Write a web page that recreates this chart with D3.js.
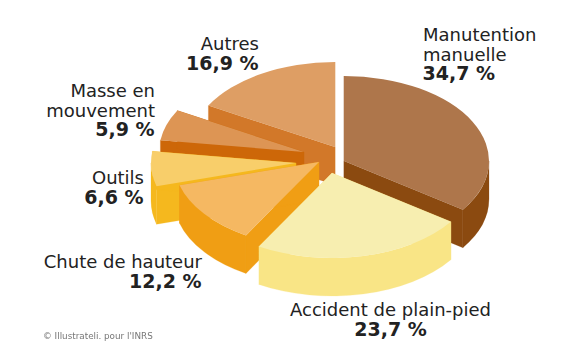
<!DOCTYPE html>
<html>
<head>
<meta charset="utf-8">
<script src="https://cdn.jsdelivr.net/npm/d3@7"></script>
<style>
  html, body { margin: 0; padding: 0; background: #fff; }
</style>
</head>
<body>
<div id="chart"></div>
<script>
// Chart data
const categories = ["Manutention manuelle", "Accident de plain-pied", "Chute de hauteur", "Outils", "Masse en mouvement", "Autres"];
const values = [34.7, 23.7, 12.2, 6.6, 5.9, 16.9];
const valueLabels = ["34,7 %", "23,7 %", "12,2 %", "6,6 %", "5,9 %", "16,9 %"];

// Slice styling, same order as categories
const topColors = ["#ae764b", "#f7eeb0", "#f5b862", "#f8ce6a", "#dd9554", "#de9e64"];
const sideColors = ["#8b4a10", "#f9e586", "#f09e14", "#f5b81e", "#cd6708", "#d27829"];

// Where each slice tip ends up after the pie is pulled apart
const sliceTips = [[344, 161], [332, 173], [319, 162], [296, 163], [304, 152], [335, 147]];
const drawOrder = [5, 4, 3, 2, 0, 1];

// Text blocks: x, baseline of first line, anchor, wrapped lines
const labelLayout = [
    { x: 423, y: 41, anchor: "start", lines: ["Manutention", "manuelle"] },
    { x: 390.5, y: 316, anchor: "middle", lines: ["Accident de plain-pied"] },
    { x: 202, y: 268, anchor: "end", lines: ["Chute de hauteur"] },
    { x: 144, y: 184, anchor: "end", lines: ["Outils"] },
    { x: 155, y: 97, anchor: "end", lines: ["Masse en", "mouvement"] },
    { x: 259, y: 50, anchor: "end", lines: ["Autres"] }
];

const width = 580;
const height = 361;
const rx = 145;
const ry = 85;
const depth = 38;
const squash = ry / rx;
const wallHeight = depth / squash;

const svg = d3.select("#chart")
    .append("svg")
    .attr("width", width)
    .attr("height", height)
    .style("display", "block")
    .style("font-family", "'DejaVu Sans', Verdana, sans-serif");

const defs = svg.append("defs");
defs.append("filter")
    .attr("id", "soft")
    .append("feGaussianBlur")
    .attr("stdDeviation", 0.4);

const pie = d3.pie().sort(null).value(d => d);
const arcs = pie(values);
const topArc = d3.arc().innerRadius(0).outerRadius(rx);

// Point on the rim, in the unsquashed coordinates of a slice
const rim = a => [rx * Math.sin(a), -rx * Math.cos(a)];

// Only the front half of the rim has a visible wall
function outerWall(startAngle, endAngle) {
    const a0 = Math.max(startAngle, Math.PI / 2);
    const a1 = Math.min(endAngle, 3 * Math.PI / 2);
    if (a1 <= a0) return null;
    const p = d3.path();
    const [x0, y0] = rim(a0);
    const [x1, y1] = rim(a1);
    p.moveTo(x0, y0);
    p.arc(0, 0, rx, a0 - Math.PI / 2, a1 - Math.PI / 2, false);
    p.lineTo(x1, y1 + wallHeight);
    p.arc(0, wallHeight, rx, a1 - Math.PI / 2, a0 - Math.PI / 2, true);
    p.closePath();
    return p.toString();
}

function radialWall(a) {
    const p = d3.path();
    const [x, y] = rim(a);
    p.moveTo(0, 0);
    p.lineTo(x, y);
    p.lineTo(x, y + wallHeight);
    p.lineTo(0, wallHeight);
    p.closePath();
    return p.toString();
}

// Dessin des parts, de l'arrière vers l'avant
drawOrder.forEach(i => {
    const d = arcs[i];
    const g = svg.append("g")
        .attr("transform", `translate(${sliceTips[i][0]},${sliceTips[i][1]}) scale(1,${squash})`);

    [radialWall(d.startAngle), radialWall(d.endAngle), outerWall(d.startAngle, d.endAngle)]
        .filter(path => path)
        .forEach(path => {
            g.append("path")
                .attr("d", path)
                .attr("fill", sideColors[i])
                .attr("stroke", sideColors[i])
                .attr("stroke-width", 0.3);
        });

    g.append("path")
        .attr("d", topArc(d))
        .attr("fill", topColors[i]);
});

// Labels
labelLayout.forEach((l, i) => {
    const text = svg.append("text")
        .attr("x", l.x)
        .attr("y", l.y)
        .attr("text-anchor", l.anchor)
        .attr("fill", "#222")
        .style("font-size", "18px");

    l.lines.forEach((line, j) => {
        text.append("tspan")
            .attr("x", l.x)
            .attr("dy", j === 0 ? 0 : 19.5)
            .text(line);
    });

    text.append("tspan")
        .attr("x", i === 1 ? l.x : l.x - 0.5)
        .attr("dy", 19.5)
        .style("font-weight", "bold")
        .style("font-size", "19px")
        .text(valueLabels[i]);
});

svg.append("text")
    .attr("x", 43)
    .attr("y", 339)
    .attr("fill", "#777")
    .attr("filter", "url(#soft)")
    .style("font-size", "8.8px")
    .text("© Illustrateli. pour l'INRS");
</script>
</body>
</html>
